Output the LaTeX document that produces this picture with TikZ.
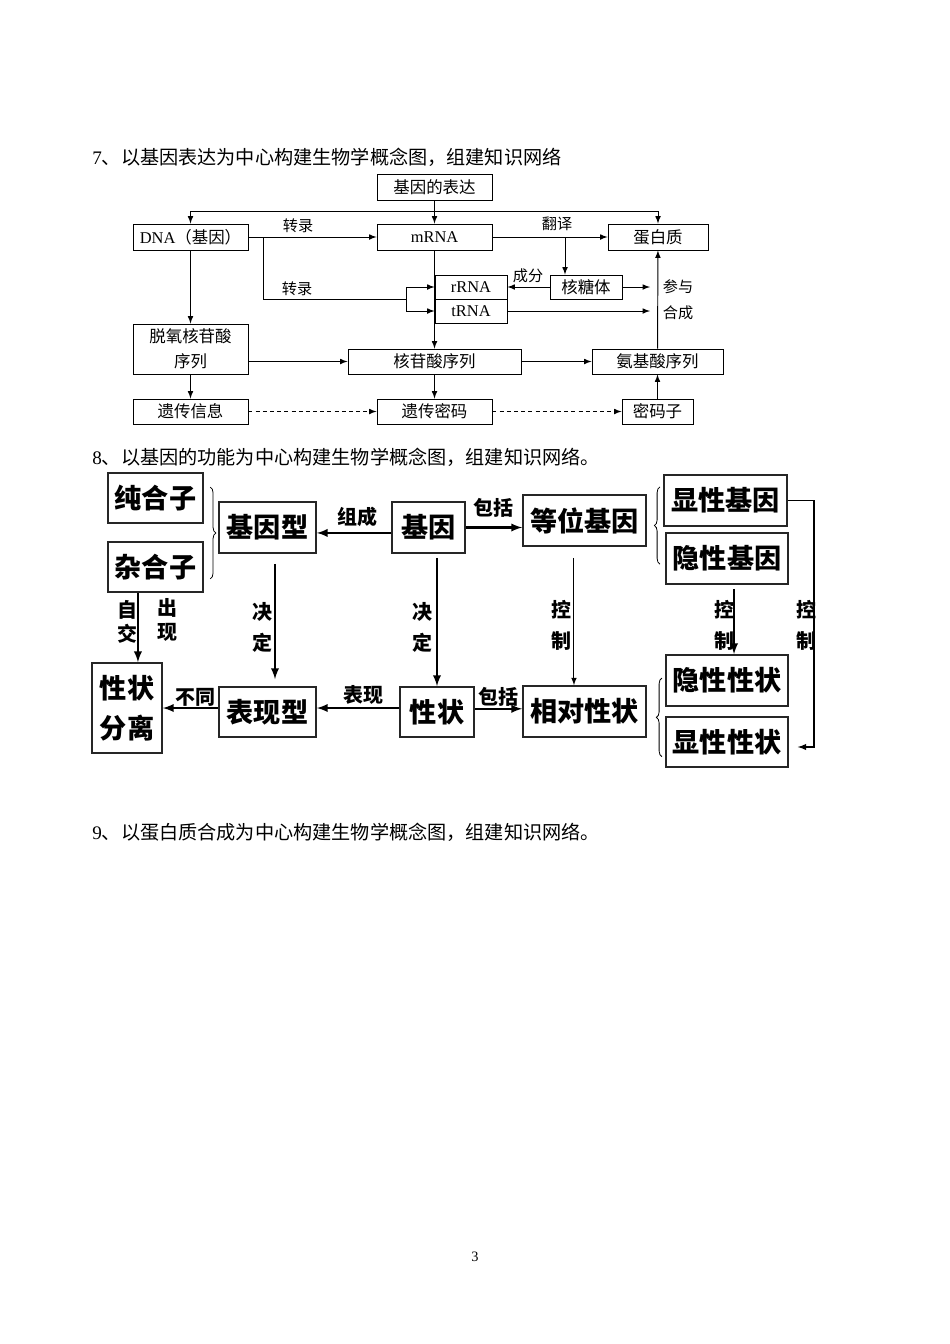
\documentclass[tikz,border=0pt]{standalone}
\usepackage{fontspec}
\setmainfont{Liberation Serif}
\newfontfamily\cn{Noto Sans CJK SC}
\usetikzlibrary{decorations.pathreplacing}
\newlength{\px}
\setlength{\px}{0.6266pt}
\newcommand{\lat}[1]{{\rmfamily #1}}
\tikzset{wh/.style 2 args={minimum width=#1*\px, minimum height=#2*\px}}

\begin{document}
\begin{tikzpicture}[x=0.6266pt, y=-0.6266pt]
% one unit = one pixel of the page, y runs downwards

\tikzstyle{arrow}   = [line width=0.6pt, color=black, -latex] % thin arrow
\tikzstyle{darrow}  = [arrow, dash pattern=on 2.5pt off 2pt] % dashed arrow
\tikzstyle{garrow}  = [line width=1.3pt, color=black, -latex] % heavy arrow
\tikzstyle{block}   = [draw, rectangle, line width=0.6pt, inner sep=0pt, font=\cn\fontsize{10.3}{15.5}\selectfont]
\tikzstyle{lbl}     = [inner sep=0pt, font=\cn\fontsize{9.5}{11}\selectfont]
\tikzstyle{gblock}  = [draw=black!85, rectangle, line width=1.1pt, inner sep=0pt, align=center, font=\cn\bfseries\fontsize{17}{25}\selectfont]
\tikzstyle{glbl}    = [inner sep=0pt, align=center, font=\cn\bfseries\fontsize{12.5}{19.5}\selectfont]
\tikzstyle{heading} = [anchor=west, inner sep=0pt, font=\cn\fontsize{12}{14}\selectfont]
\tikzstyle{brc}     = [decorate, decoration={brace, amplitude=3.5pt}, line width=0.5pt]

% page
\fill[white](0,0) rectangle (950,1344);
\useasboundingbox(0,0) rectangle (950,1344);

% headings
\node(h7)[heading] at (92,157){\lat{7}、以基因表达为中心构建生物学概念图，组建知识网络};
\node(h8)[heading] at (92,457){\lat{8}、以基因的功能为中心构建生物学概念图，组建知识网络。};
\node(h9)[heading] at (92,832){\lat{9}、以蛋白质合成为中心构建生物学概念图，组建知识网络。};
\node(pg)[inner sep=0pt, font=\rmfamily\fontsize{9}{10}\selectfont] at (475,1257){3};

% ===== map 7: gene expression =====
\node(expr)[block, wh={115}{26}] at (434.5,187){基因的表达};
\node(dna)[block, wh={115}{26}] at (190.5,237){\lat{DNA}（基因）};
\node(mrna)[block, wh={115}{26}] at (434.5,237){\lat{mRNA}};
\node(prot)[block, wh={100}{26}] at (658,237){蛋白质};
\node(rrna)[block, wh={72}{24}] at (471,287){\lat{rRNA}};
\node(trna)[block, wh={72}{24}] at (471,311){\lat{tRNA}};
\node(ribo)[block, wh={72}{24}] at (586,287){核糖体};
\node(dnts)[block, wh={115}{50}, align=center] at (190.5,349){脱氧核苷酸\\序列};
\node(nts)[block, wh={173}{25}] at (434.5,361.5){核苷酸序列};
\node(aas)[block, wh={131}{25}] at (657.5,361.5){氨基酸序列};
\node(info)[block, wh={115}{25}] at (190.5,411.5){遗传信息};
\node(code)[block, wh={115}{25}] at (434.5,411.5){遗传密码};
\node(codon)[block, wh={71}{25}] at (657.5,411.5){密码子};

% auxiliary points
\coordinate(top) at (434.5,211);
\coordinate(b1) at (263,237);
\coordinate(split) at (406,299);
\coordinate(tr) at (565,237);
\coordinate(p1) at (650,287);
\coordinate(p2) at (650,311);

% arrows
\draw[arrow](expr)--(mrna);
\draw[arrow](top)-|(dna.north);
\draw[arrow](top)-|(prot.north);
\draw[arrow](dna)--(mrna);
\draw(b1)|-(split);
\draw[arrow](split)|-(rrna.west);
\draw[arrow](split)|-(trna.west);
\draw[arrow](mrna)--(nts);
\draw[arrow](mrna)--(prot);
\draw[arrow](tr)--(tr|-ribo.north);
\draw[arrow](ribo)--(rrna);
\draw[arrow](ribo)--(p1);
\draw[arrow](trna.east)--(p2);
\draw[arrow](aas)--(prot);
\draw[arrow](dna)--(dnts);
\draw[arrow](dnts.east|-nts)--(nts);
\draw[arrow](dnts)--(info);
\draw[arrow](nts)--(code);
\draw[arrow](nts)--(aas);
\draw[darrow](info)--(code);
\draw[darrow](code)--(codon);
\draw[arrow](codon)--(aas);

% labels
\node(l71)[lbl] at (298,226){转录};
\node(l72)[lbl] at (297,289){转录};
\node(l73)[lbl] at (557,224){翻译};
\node(l74)[lbl] at (528,276){成分};
\node(l75)[lbl] at (678,287){参与};
\node(l76)[lbl] at (678,313){合成};

% ===== map 8: gene function =====
\node(pure)[gblock, wh={95}{50}] at (155.5,498){纯合子};
\node(het)[gblock, wh={95}{50}] at (155.5,567){杂合子};
\node(gtype)[gblock, wh={97}{51}] at (267.5,527.5){基因型};
\node(gene)[gblock, wh={73}{51}] at (428.5,527.5){基因};
\node(allele)[gblock, wh={123}{51}] at (584.5,520.5){等位基因};
\node(dom)[gblock, wh={123}{51}] at (725.5,500.5){显性基因};
\node(rec)[gblock, wh={122}{51}] at (727,558.5){隐性基因};
\node(seg)[gblock, wh={70}{90}] at (127,708){性状\\分离};
\node(ptype)[gblock, wh={97}{50}] at (267.5,712){表现型};
\node(trait)[gblock, wh={74}{50}] at (437,712){性状};
\node(rel)[gblock, wh={123}{51}] at (584.5,711.5){相对性状};
\node(rect)[gblock, wh={122}{51}] at (727,680.5){隐性性状};
\node(dtrait)[gblock, wh={122}{50}] at (727,742){显性性状};

% braces
\draw[brc]([shift={(4pt,-9.4pt)}]pure.north east)--([shift={(4pt,8.8pt)}]het.south east);
\draw[brc]([shift={(-2pt,13pt)}]dom.west|-rec.south)--([shift={(-2pt,-8pt)}]dom.north west);
\draw[brc]([shift={(-2pt,7pt)}]dtrait.south west)--([shift={(-2pt,-15pt)}]rect.north west);

% arrows
\coordinate(rt) at (814,747);
\draw[garrow]([yshift=-3.4pt]gene.west)--([yshift=-3.4pt]gtype.east);
\draw[garrow](gene.east)--(gene.east-|allele.west);
\draw[garrow, shorten <=6.3pt, shorten >=4.4pt]([xshift=4.7pt]gtype.south)--([xshift=4.7pt]ptype.north);
\draw[garrow, shorten <=2.5pt](gene.south-|trait.north)--(trait.north);
\draw[arrow, shorten <=6.9pt]([xshift=-6.6pt]allele.south)--([xshift=-6.6pt]rel.north);
\draw[garrow, shorten <=2.5pt]([xshift=4.4pt]rec.south)--([xshift=4.4pt]rect.north);
\draw[arrow, line width=0.8pt, shorten >=5.6pt](dom.east)-|(rt)--(rt-|dtrait.east);
\draw[garrow]([yshift=2.5pt]trait.west)--([yshift=2.5pt]ptype.east);
\draw[garrow]([yshift=2.5pt]ptype.west)--([yshift=2.5pt]ptype.west-|seg.east);
\draw[garrow]([yshift=2pt]trait.east)--([yshift=2pt]trait.east-|rel.west);
\draw[garrow]([xshift=-11pt]het.south)--([xshift=-11pt]het.south|-seg.north);

% labels
\node(l81)[glbl] at (357,517){组成};
\node(l82)[glbl] at (493,508){包括};
\node(l83)[glbl] at (262,627.5){决\\定};
\node(l84)[glbl] at (422,627.5){决\\定};
\node(l85)[glbl] at (561,625.5){控\\制};
\node(l86)[glbl] at (724,625.5){控\\制};
\node(l87)[glbl] at (806,625.5){控\\制};
\node(l88)[glbl] at (363,695){表现};
\node(l89)[glbl] at (195,697){不同};
\node(l90)[glbl] at (498,697){包括};
\node(l91)[glbl, font=\cn\bfseries\fontsize{12.5}{15}\selectfont] at (127,622){自\\交};
\node(l92)[glbl, font=\cn\bfseries\fontsize{12.5}{15}\selectfont] at (167,620){出\\现};
\end{tikzpicture}
\end{document}
